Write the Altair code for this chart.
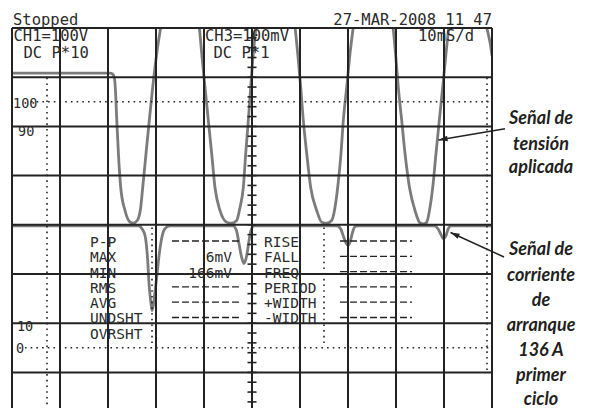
import altair as alt
import pandas as pd

# Horizontal: time in ms (10 ms/div, 10 divisions). Vertical: screen divisions (centre = 0).
# CH1 voltage trace
v_t = [0, 20.0, 20.42, 20.94, 21.31, 21.52, 21.83, 22.17, 22.65, 23.54, 24.58, 25.27, 26.10, 26.81,
       27.23, 27.92, 28.60, 29.31, 30.15, 30.98, 34.9,
       39.02, 39.52, 40.21, 40.90, 41.60, 42.29, 43.33, 44.73, 45.77, 46.81, 47.50, 48.19, 48.69,
       49.23, 49.73, 50.27, 50.83, 54.9,
       58.96, 59.52, 60.15, 60.69, 61.40, 62.23, 63.48, 64.52, 65.56, 66.60, 67.29, 67.85, 68.54,
       69.02, 69.73, 70.42, 71.10, 75.2,
       79.38, 79.90, 80.48, 81.19, 81.88, 82.81, 83.96, 85.00, 85.69, 86.40, 87.08, 87.65, 88.33,
       89.02, 89.73, 90.42, 91.0, 94.95,
       98.90, 99.94, 100.0]
v_y = [3.081, 3.081, 3.081, 3.065, 2.994, 2.791, 2.120, 1.449, 0.758, 0.291, 0.057, 0.033, 0.087, 0.352,
       0.758, 1.449, 2.120, 2.791, 3.482, 4.016, 5.6,
       4.016, 3.482, 2.791, 2.120, 1.449, 0.758, 0.291, 0.053, 0.033, 0.087, 0.352, 0.758, 1.449,
       2.120, 2.791, 3.482, 4.016, 5.6,
       4.016, 3.482, 2.791, 2.120, 1.449, 0.758, 0.291, 0.053, 0.033, 0.087, 0.352, 0.758, 1.449,
       2.120, 2.791, 3.482, 4.016, 5.6,
       4.016, 3.482, 2.791, 2.120, 1.449, 0.758, 0.291, 0.037, 0.016, 0.053, 0.352, 0.758, 1.449,
       2.120, 2.791, 3.482, 4.016, 5.6,
       4.016, 3.482, 3.43]

# CH3 current trace
i_t = [0, 26.31, 27.08, 27.71, 28.27, 28.54, 28.96, 29.17, 29.44, 29.75, 30.15, 30.69, 31.31, 31.88, 32.92,
       46.04, 46.77, 47.29, 47.85, 48.33, 48.90, 49.38, 49.79, 50.42,
       67.71, 68.54, 69.06, 69.65, 70.06, 70.52, 70.94, 71.46, 72.08,
       87.92, 88.75, 89.38, 89.85, 90.42, 90.90, 91.46, 100.0]
i_y = [-0.02, -0.02, -0.08, -0.218, -0.726, -1.193, -1.600, -1.742, -1.640, -1.396, -1.065, -0.583, -0.217, -0.075, -0.02,
       -0.02, -0.116, -0.380, -0.665, -0.787, -0.624, -0.319, -0.116, -0.02,
       -0.02, -0.096, -0.238, -0.380, -0.421, -0.319, -0.157, -0.035, -0.02,
       -0.02, -0.08, -0.20, -0.285, -0.217, -0.075, -0.024, -0.02]

grid_x = [0, 10, 20, 30, 40, 50, 60, 70, 80, 90, 100]
grid_y = [4, 3, 2, 1, 0, -1, -2, -3]
tick_y = [k / 5 for k in range(-18, 21)]

# header / scope texts
head_text = ["Stopped", "CH1=100V", "DC P*10", "CH3=100mV", "DC P*1", "10mS/d"]
head_x = [0.21, 0.31, 2.40, 40.21, 41.98, 84.58]
head_y = [4.051, 3.726, 3.400, 3.726, 3.400, 3.726]
date_text = ["27-MAR-2008 11 47"]

scale_text = ["100", "90", "10", "0"]
scale_x = [0.21, 1.25, 1.04, 0.83]
scale_y = [2.364, 1.805, -2.159, -2.616]

row_y = [-0.451, -0.762, -1.073, -1.384, -1.695, -2.006, -2.317]
meas1 = ["P-P", "MAX", "MIN", "RMS", "AVG", "UNDSHT", "OVRSHT"]
meas2 = ["RISE", "FALL", "FREQ", "PERIOD", "+WIDTH", "-WIDTH"]
vals1 = ["6mV", "-166mV"]
dash_y = [-0.329, -0.640, -0.951, -1.262, -1.573, -1.884]

ann_text = ["Señal de", "tensión", "aplicada",
            "Señal de", "corriente", "de", "arranque", "136 A", "primer", "ciclo"]
ann_y = [2.039, 1.530, 1.043, -0.624, -1.136, -1.648, -2.161, -2.673, -3.185, -3.655]

xs = alt.Scale(domain=[0, 100], nice=False, zero=False)
ys = alt.Scale(domain=[-3.724, 4], nice=False, zero=False)
X = lambda f: alt.X(f, type="quantitative", scale=xs, axis=None)
Y = lambda f: alt.Y(f, type="quantitative", scale=ys, axis=None)

INK = "#232323"
TXT = "#2b2b2b"
TRACE = "#7b7b7b"

volt = alt.Chart(pd.DataFrame({"t": v_t, "y": v_y})).mark_line(
    color=TRACE, strokeWidth=2.8, interpolate="monotone", clip=True).encode(x=X("t"), y=Y("y"))
curr = alt.Chart(pd.DataFrame({"t": i_t, "y": i_y})).mark_line(
    color=TRACE, strokeWidth=2.8, interpolate="monotone", clip=True).encode(x=X("t"), y=Y("y"))

vgrid = alt.Chart(pd.DataFrame({"x": grid_x})).mark_rule(color=INK, strokeWidth=2).encode(x=X("x"))
hgrid = alt.Chart(pd.DataFrame({"y": grid_y})).mark_rule(color=INK, strokeWidth=2).encode(y=Y("y"))
ticks = alt.Chart(pd.DataFrame({"y": tick_y, "x": [49.06] * len(tick_y), "x2": [50.94] * len(tick_y)})).mark_rule(
    color=INK, strokeWidth=1.6).encode(x=X("x"), x2="x2", y=Y("y"))

dots = pd.DataFrame({
    "x": [3.96, 2.7, 7.29, 98.96, 29.17, 65.0],
    "x2": [99.8, 99.8, 7.29, 98.96, 29.17, 65.0],
    "y": [2.5, -2.5, 2.99, 2.99, -0.055, -0.055],
    "y2": [2.5, -2.5, -3.724, -2.96, -2.41, -2.41],
})
dotted = alt.Chart(dots).mark_rule(color=INK, strokeWidth=1.6, strokeDash=[1.6, 4.1]).encode(
    x=X("x"), x2="x2", y=Y("y"), y2="y2")

dash_df = pd.DataFrame({
    "x": [33.33] * 4 + [68.33] * 6,
    "x2": [47.92] * 4 + [83.33] * 6,
    "y": [dash_y[0], dash_y[3], dash_y[4], dash_y[5]] + dash_y,
})
dashes = alt.Chart(dash_df).mark_rule(color=INK, strokeWidth=1.3, strokeDash=[7, 3]).encode(
    x=X("x"), x2="x2", y=Y("y"), y2="y")

mono = "DejaVu Sans Mono"
head = alt.Chart(pd.DataFrame({"x": head_x, "y": head_y, "s": head_text})).mark_text(
    align="left", baseline="alphabetic", font=mono, fontSize=15.5, color=TXT).encode(
    x=X("x"), y=Y("y"), text="s:N")
date = alt.Chart(pd.DataFrame({"x": [100.0], "y": [4.051], "s": date_text})).mark_text(
    align="right", baseline="alphabetic", font=mono, fontSize=15.5, color=TXT).encode(
    x=X("x"), y=Y("y"), text="s:N")
scl = alt.Chart(pd.DataFrame({"x": scale_x, "y": scale_y, "s": scale_text})).mark_text(
    align="left", baseline="alphabetic", font=mono, fontSize=13.5,
    color=TXT).encode(x=X("x"), y=Y("y"), text="s:N")
m1 = alt.Chart(pd.DataFrame({"x": [16.25] * 7, "y": row_y, "s": meas1})).mark_text(
    align="left", baseline="alphabetic", font=mono, fontSize=14.5, color=TXT).encode(
    x=X("x"), y=Y("y"), text="s:N")
m2 = alt.Chart(pd.DataFrame({"x": [52.5] * 6, "y": row_y[:6], "s": meas2})).mark_text(
    align="left", baseline="alphabetic", font=mono, fontSize=14.5, color=TXT).encode(
    x=X("x"), y=Y("y"), text="s:N")
v1 = alt.Chart(pd.DataFrame({"x": [45.83] * 2, "y": row_y[1:3], "s": vals1})).mark_text(
    align="right", baseline="alphabetic", font=mono, fontSize=14.5, color=TXT).encode(
    x=X("x"), y=Y("y"), text="s:N")

ann = alt.Chart(pd.DataFrame({"x": [110.21] * len(ann_text), "y": ann_y, "s": ann_text})).mark_text(
    align="center", baseline="alphabetic", font="Lato", fontStyle="italic", fontWeight="bold",
    fontSize=18, color="#231f20").encode(x=X("x"), y=Y("y"), text="s:N")

arr = pd.DataFrame({"x": [102.71, 102.5], "y": [1.951, -0.654],
                    "x2": [88.85, 91.35], "y2": [1.724, -0.157], "ang": [260.4, 294.6]})
arr_lines = alt.Chart(arr).mark_rule(color=INK, strokeWidth=1.5).encode(
    x=X("x"), x2="x2", y=Y("y"), y2="y2")
arr_heads = alt.Chart(arr).mark_point(
    shape="M0,0L0.3,1L-0.3,1Z", filled=True, size=330, color=INK, opacity=1, strokeWidth=0).encode(
    x=X("x2"), y=Y("y2"), angle=alt.Angle("ang:Q", scale=None))

chart = alt.layer(
    volt, curr, vgrid, hgrid, ticks, dotted, dashes,
    head, date, scl, m1, m2, v1, ann, arr_lines, arr_heads,
).properties(
    width=480, height=380,
    padding={"left": 4, "top": 20, "right": 94, "bottom": 0},
    autosize=alt.AutoSizeParams(type="none"),
    background="white",
).configure_view(stroke=None)

chart.save("out.html", embed_options={"renderer": "svg", "actions": False})
